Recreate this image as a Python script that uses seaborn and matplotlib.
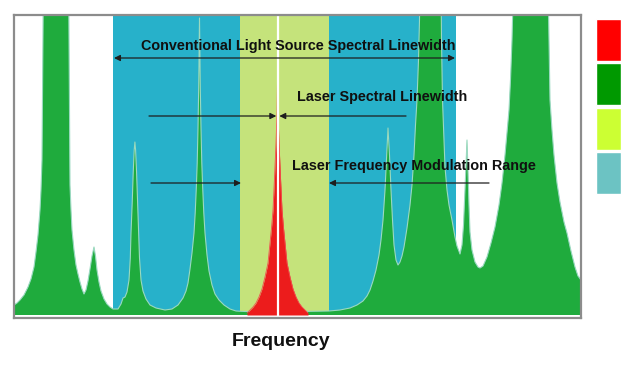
import matplotlib
matplotlib.use("Agg")
import matplotlib.pyplot as plt
import seaborn as sns

# ---------------- data ----------------
# frequency axis in arbitrary units, intensity in arbitrary units
green_freq = [14, 17, 20, 24, 28, 31, 34, 36, 38, 40, 41, 42, 42.5, 43, 43.5, 55, 68.5, 69, 69.5, 70,
              71, 72, 74, 76, 78, 80, 82, 84, 86, 88, 90, 92, 94, 95.5, 97, 99, 101, 104, 107, 110,
              113, 118, 121, 123, 125, 127, 129, 130.3, 131, 132.2, 133.2, 134.2, 134.9, 135.6, 136.6,
              137.6, 138.6, 139.5, 141, 143, 146, 150, 156, 165, 172, 178, 183, 186, 188, 190, 192,
              194, 195.2, 196.3, 197.2, 198, 198.7, 199.5, 200.3, 201, 201.8, 202.7, 203.8, 205, 207,
              209, 212, 215, 219, 224, 230, 236, 245, 270, 300, 329, 340, 350, 357, 363, 367, 370,
              373, 376, 379, 381, 383, 385, 386.5, 388, 389.5, 391, 392.5, 394, 396, 398, 400, 402,
              404, 407, 410, 412, 414, 415.5, 417, 418.5, 419.5, 420, 430, 441, 441.5, 442.5, 444,
              445, 447, 449, 452, 455, 457, 460, 462, 463.5, 465, 466, 467, 468, 469, 470, 472, 475,
              478, 480, 483, 487, 491, 495, 499, 502, 505, 507, 509, 510.5, 512, 513, 513.5, 530,
              548, 549, 550, 552, 554, 557, 560, 564, 567, 571, 575, 578, 581]
green_int = [8, 10, 13, 18, 26, 34, 46, 61, 78, 103, 123, 153, 213, 273, 353, 463, 353, 273, 193, 128,
             103, 83, 63, 48, 39, 31, 24, 19, 23, 32, 44, 57, 66, 57, 43, 31, 22, 14, 9, 6,
             4, 4, 9, 15, 16, 21, 33, 55, 80, 110, 140, 163, 171, 163, 140,
             110, 80, 55, 33, 22, 14, 8, 5, 3, 4, 8, 15, 22, 30, 44, 60,
             80, 100, 125, 150, 185, 225, 295, 225, 185, 150, 125, 100, 80, 58,
             42, 28, 19, 13, 8, 4, 2, 1.5, 1.5, 1.5, 2, 3, 5, 8, 12, 17, 23,
             32, 43, 58, 73, 93, 123, 153, 185, 158, 123, 93, 68, 53, 48, 51, 57,
             66, 85, 108, 128, 158, 188, 213, 253, 293, 333, 513, 333, 273, 213, 173,
             146, 123, 108, 93, 76, 67, 59, 68, 88, 123, 148, 173, 143, 108, 81, 63, 51,
             46, 45, 47, 56, 70, 86, 108, 130, 158, 180, 203, 233, 273, 313, 333, 513,
             333, 273, 213, 183, 158, 130, 111, 91, 80, 62, 46, 37, 33]

laser_freq = [247, 250, 253, 256, 259, 262, 265, 268, 270, 271.5, 273, 274.5, 276, 277, 277.5,
              278, 279, 280.5, 282, 283.5, 285, 287, 290, 293, 296, 299, 302, 305, 308]
laser_int = [0, 3, 6, 10, 16, 24, 36, 50, 70, 85, 103, 135, 170, 200, 236,
             200, 170, 135, 103, 85, 70, 50, 36, 24, 16, 10, 6, 3, 0]

laser_center = 277.5
conventional_band = (113, 456)      # conventional light source spectral linewidth
modulation_band = (240, 329)        # laser frequency modulation range

legend_names = ["Laser", "Conventional source", "Modulation range", "Conventional linewidth"]
legend_colors = ["#FF0000", "#009900", "#CCFF33", "#6CC3C3"]

# ---------------- style ----------------
sns.set_theme(style="white")
plt.rcParams["font.family"] = ["Liberation Sans", "DejaVu Sans"]

C_BLUE = "#27b1ca"
C_YELLOW = "#c5e37b"
C_GREEN = "#1fab3d"
C_GREEN_EDGE = "#9ad9c0"
C_RED = "#ec1c1c"
C_TEXT = "#101010"
C_ARROW = "#1e1e1e"

fig = plt.figure(figsize=(6.28, 3.69), dpi=100)
fig.patch.set_facecolor("white")
ax = fig.add_axes([14 / 628, 1 - 318 / 369, 567 / 628, 303 / 369])
ax.set_xlim(14, 581)
ax.set_ylim(-5, 298)
base = -2

# bands
ax.fill_between(conventional_band, base, 298, color=C_BLUE, lw=0, zorder=1)
ax.fill_between(modulation_band, base, 298, color=C_YELLOW, lw=0, zorder=1.5)

# conventional source spectrum (green)
ax.fill_between(green_freq, base, green_int, color=C_GREEN, lw=0, zorder=2)
sns.lineplot(x=green_freq, y=green_int, color=C_GREEN_EDGE, lw=0.8, sort=False,
             estimator=None, ax=ax, zorder=2.1)

# laser line (red)
ax.fill_between(laser_freq, base, laser_int, color=C_RED, lw=0, zorder=3)
sns.lineplot(x=laser_freq, y=laser_int, color="#f05050", lw=0.6, sort=False,
             estimator=None, ax=ax, zorder=3.1)

ax.axvline(laser_center, color="white", lw=1.6, zorder=4)

# annotations
def arrow(x0, x1, y, style="-|>"):
    ax.annotate("", xy=(x1, y), xytext=(x0, y),
                arrowprops=dict(arrowstyle=style, color=C_ARROW, lw=0.9,
                                mutation_scale=9, shrinkA=0, shrinkB=0),
                zorder=5)

arrow(conventional_band[0] + 1, conventional_band[1] - 1, 255, "<|-|>")
arrow(149, laser_center - 1.2, 197)
arrow(406, laser_center + 1.8, 197)
arrow(151, modulation_band[0] + 1, 130)
arrow(489, modulation_band[1], 130)

tkw = dict(fontsize=10.4, fontweight="bold", color=C_TEXT, va="baseline", zorder=6)
ax.text(298.5, 263, "Conventional Light Source Spectral Linewidth", ha="center", **tkw)
ax.text(297, 211.5, "Laser Spectral Linewidth", ha="left", **tkw)
ax.text(292, 143, "Laser Frequency Modulation Range", ha="left", **tkw)

ax.text(281.5, -33.5, "Frequency", ha="center", va="baseline", fontsize=14,
        fontweight="bold", color=C_TEXT, clip_on=False)

ax.set_xticks([])
ax.set_yticks([])
ax.set_xlabel("")
ax.set_ylabel("")
for s in ax.spines.values():
    s.set_visible(True)
    s.set_color("#8c8c8c")
    s.set_linewidth(1.6)
    s.set_zorder(7)

# colour swatches on the right
ax2 = fig.add_axes([596 / 628, 1 - 195 / 369, 25 / 628, 177 / 369])
sns.barplot(x=[1] * len(legend_names), y=legend_names, hue=legend_names,
            palette=legend_colors, orient="h", width=0.95, saturation=1,
            legend=False, ax=ax2)
ax2.set_xlim(0, 1)
ax2.set_ylim(len(legend_names) - 0.5, -0.5)
ax2.axis("off")

fig.savefig("out.png", dpi=100, facecolor="white")
